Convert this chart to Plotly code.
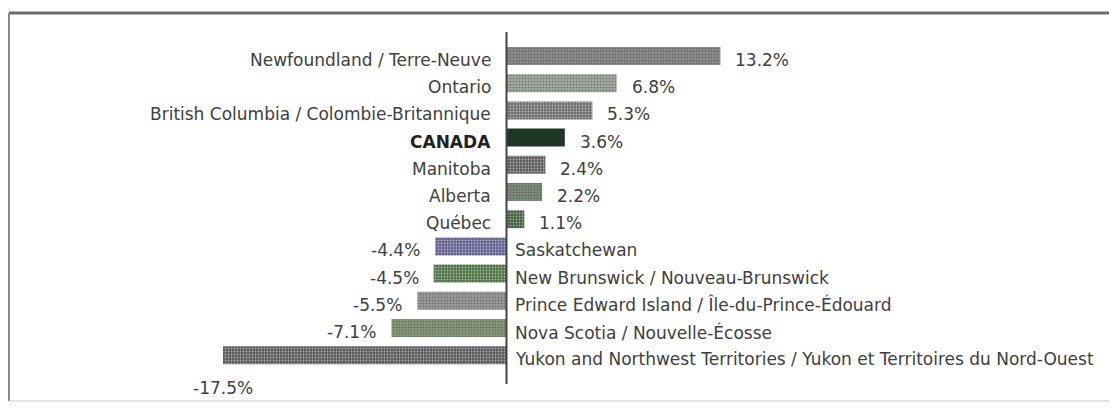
import plotly.graph_objects as go

regions = [
    "Newfoundland / Terre-Neuve",
    "Ontario",
    "British Columbia / Colombie-Britannique",
    "CANADA",
    "Manitoba",
    "Alberta",
    "Québec",
    "Saskatchewan",
    "New Brunswick / Nouveau-Brunswick",
    "Prince Edward Island / Île-du-Prince-Édouard",
    "Nova Scotia / Nouvelle-Écosse",
    "Yukon and Northwest Territories / Yukon et Territoires du Nord-Ouest",
]
changes = [13.2, 6.8, 5.3, 3.6, 2.4, 2.2, 1.1, -4.4, -4.5, -5.5, -7.1, -17.5]

bar_colors = ["#8e8e8e", "#a3aca3", "#6b6b6b", "#1f3826", "#5a5a5a", "#7d8f7d",
              "#3f5c3f", "#605e8c", "#4a7040", "#9c9c9c", "#889c78", "#565656"]
dot_colors = ["#cfcfcf", "#d6dbd6", "#b8b8b8", "#1f3826", "#a4a4a4", "#bcc8bc",
              "#8fa48f", "#aaa9cc", "#9cba92", "#d2d2d2", "#c2d2b2", "#a8a8a8"]
dot_shapes = ["." if r != "CANADA" else "" for r in regions]

# page body has an 8px margin; figure coordinates are relative to that
OFF = 8
PX_PER_UNIT = 16.2
ZERO_PX = 506.5 - OFF
W, H = 1117 - 2 * OFF, 410 - 2 * OFF
ROW0, ROW_STEP = 56 - OFF, 27.2

fig = go.Figure(go.Bar(
    x=changes, y=regions, orientation="h", width=0.66,
    marker=dict(color=bar_colors, line=dict(width=0),
                pattern=dict(shape=dot_shapes, fgcolor=dot_colors, size=3, solidity=0.35)),
    hoverinfo="skip",
))

font_main = dict(family="DejaVu Sans, Arial", size=17, color="#404040")
annotations = []
min_val = min(changes)
for r, v in zip(regions, changes):
    name_font = dict(font_main)
    if r == "CANADA":
        name_font = dict(font_main, color="#222222")
    name_text = f"<b>{r}</b>" if r == "CANADA" else r
    if v >= 0:
        annotations.append(dict(x=0, y=r, text=name_text, xanchor="right", xshift=-14, yshift=-4,
                                showarrow=False, font=name_font))
        annotations.append(dict(x=v, y=r, text=f"{v:.1f}%", xanchor="left", xshift=13, yshift=-4,
                                showarrow=False, font=font_main))
    else:
        annotations.append(dict(x=0, y=r, text=name_text, xanchor="left", xshift=6, yshift=-4,
                                showarrow=False, font=name_font))
        if v == min_val:
            annotations.append(dict(x=v, y=r, text=f"{v:.1f}%", xanchor="center", yshift=-33,
                                    showarrow=False, font=font_main))
        else:
            annotations.append(dict(x=v, y=r, text=f"{v:.1f}%", xanchor="right", xshift=-13, yshift=-4,
                                    showarrow=False, font=font_main))

shapes = [
    # frame
    dict(type="line", xref="paper", yref="paper", x0=1 / W, x1=1.0, y0=1 - 5 / H, y1=1 - 5 / H,
         line=dict(color="#6e6e6e", width=3)),
    dict(type="line", xref="paper", yref="paper", x0=1 / W, x1=1 / W, y0=1 - 5 / H, y1=1 - 393 / H,
         line=dict(color="#8a8a8a", width=2)),
    dict(type="line", xref="paper", yref="paper", x0=1 / W, x1=1.0, y0=1 - 393 / H, y1=1 - 393 / H,
         line=dict(color="#c8c8c8", width=1)),
    # zero axis
    dict(type="line", xref="x", yref="paper", x0=0, x1=0, y0=1 - 24 / H, y1=1 - 376 / H,
         line=dict(color="#444444", width=2)),
]

fig.update_layout(
    width=W, height=H,
    margin=dict(l=0, r=0, t=0, b=0),
    paper_bgcolor="white", plot_bgcolor="white",
    showlegend=False,
    xaxis=dict(range=[-ZERO_PX / PX_PER_UNIT, (W - ZERO_PX) / PX_PER_UNIT], visible=False, fixedrange=True),
    yaxis=dict(type="category", categoryorder="array", categoryarray=regions,
               range=[(H - ROW0) / ROW_STEP, -ROW0 / ROW_STEP], visible=False, fixedrange=True),
    annotations=annotations,
    shapes=shapes,
    bargap=0.34,
)

fig.write_html("out.html")
